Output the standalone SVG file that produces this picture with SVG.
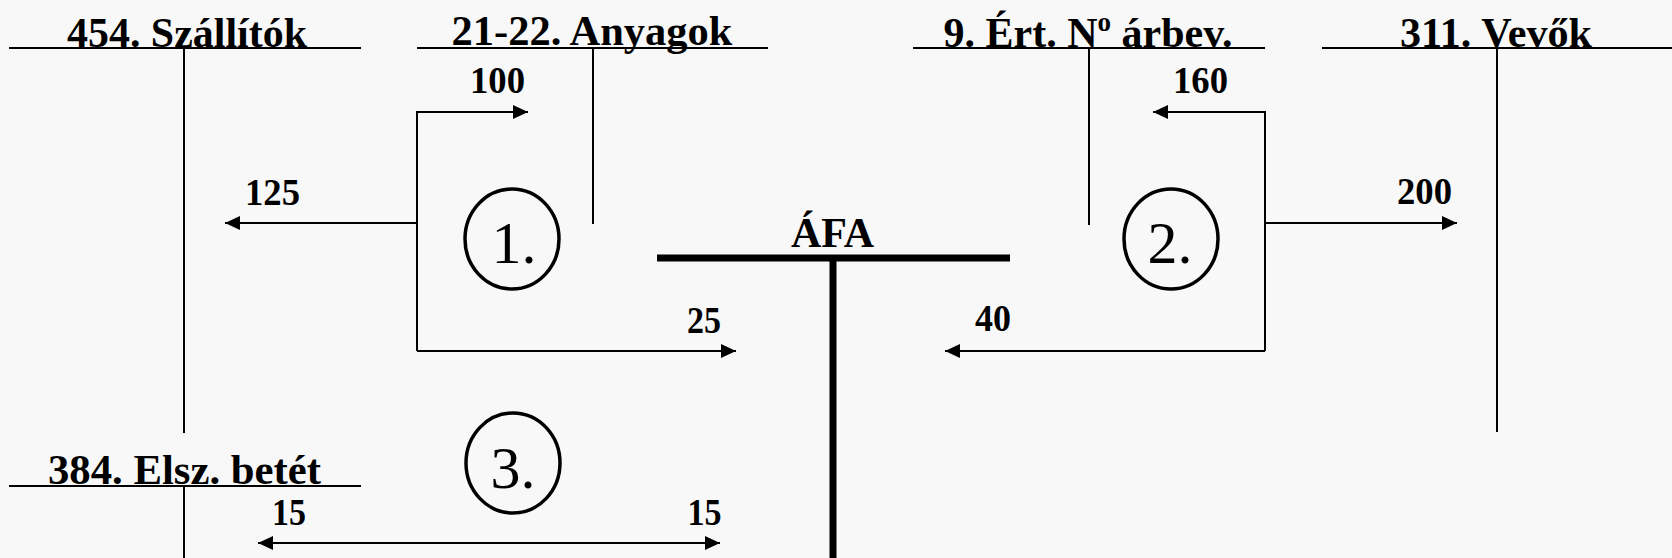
<svg xmlns="http://www.w3.org/2000/svg" width="1672" height="558" viewBox="0 0 1672 558">
<style>
.bg{fill:#f8f8f8}
.ln{stroke:#000;stroke-width:2;fill:none}
.thick{stroke:#000;stroke-width:7;fill:none}
.hd{font-family:"Liberation Serif","Times New Roman",serif;font-weight:bold;font-size:42px;fill:#000;text-anchor:middle}
.num{font-family:"Liberation Serif","Times New Roman",serif;font-weight:bold;font-size:37px;fill:#000;text-anchor:middle}
.circ{fill:none;stroke:#000;stroke-width:3.5}
.cn{font-family:"Liberation Serif","Times New Roman",serif;font-size:60px;fill:#000;text-anchor:middle}
</style>
<defs>
<marker id="ah" markerUnits="userSpaceOnUse" markerWidth="16" markerHeight="14" refX="15" refY="7" orient="auto-start-reverse" viewBox="0 0 16 14">
<path d="M0,0 L15,7 L0,14 z" fill="#000"/>
</marker>
</defs>
<rect class="bg" x="0" y="0" width="1672" height="558"/>

<g id="acc-454">
<line class="ln" x1="9" y1="48" x2="361" y2="48"/>
<line class="ln" x1="184" y1="48" x2="184" y2="433"/>
<text class="hd" x="187" y="47" textLength="240" lengthAdjust="spacingAndGlyphs">454. Szállítók</text>
</g>
<g id="acc-2122">
<line class="ln" x1="417" y1="48" x2="768" y2="48"/>
<line class="ln" x1="593" y1="48" x2="593" y2="224"/>
<text class="hd" x="592" y="45" textLength="281" lengthAdjust="spacingAndGlyphs">21-22. Anyagok</text>
</g>
<g id="acc-9">
<line class="ln" x1="913" y1="48" x2="1265" y2="48"/>
<line class="ln" x1="1089" y1="48" x2="1089" y2="225"/>
<text class="hd" x="1088" y="47">9. Ért. N<tspan font-size="27" dy="-16">o</tspan><tspan dy="16"> árbev.</tspan></text>
</g>
<g id="acc-311">
<line class="ln" x1="1322" y1="48" x2="1672" y2="48"/>
<line class="ln" x1="1497" y1="48" x2="1497" y2="432"/>
<text class="hd" x="1496" y="47" textLength="192" lengthAdjust="spacingAndGlyphs">311. Vevők</text>
</g>
<g id="acc-384">
<line class="ln" x1="9" y1="486" x2="361" y2="486"/>
<line class="ln" x1="184" y1="486" x2="184" y2="558"/>
<text class="hd" x="184.5" y="484" textLength="273" lengthAdjust="spacingAndGlyphs">384. Elsz. betét</text>
</g>
<g id="acc-afa">
<line class="thick" x1="657" y1="258" x2="1010" y2="258"/>
<line class="thick" x1="833" y1="258" x2="833" y2="558"/>
<text class="hd" x="832.5" y="247">ÁFA</text>
</g>

<g id="step-1">
<ellipse class="circ" cx="512" cy="239" rx="47" ry="50"/>
<text class="cn" x="514" y="263">1.</text>
</g>
<g id="step-2">
<ellipse class="circ" cx="1171" cy="239" rx="47" ry="50"/>
<text class="cn" x="1170" y="263">2.</text>
</g>
<g id="step-3">
<ellipse class="circ" cx="513" cy="463" rx="47" ry="50"/>
<text class="cn" x="513" y="488">3.</text>
</g>

<g id="connectors">
<path class="ln" d="M417,351 V112 H528" marker-end="url(#ah)"/>
<path class="ln" d="M417,223 H225" marker-end="url(#ah)"/>
<path class="ln" d="M417,351 H736" marker-end="url(#ah)"/>
<path class="ln" d="M1265,351 V112 H1153" marker-end="url(#ah)"/>
<path class="ln" d="M1265,223 H1457" marker-end="url(#ah)"/>
<path class="ln" d="M1265,351 H945" marker-end="url(#ah)"/>
<path class="ln" d="M258,543 H720" marker-start="url(#ah)" marker-end="url(#ah)"/>
</g>

<g id="labels">
<text class="num" x="497.5" y="93" textLength="55" lengthAdjust="spacingAndGlyphs">100</text>
<text class="num" x="272.5" y="205" textLength="55" lengthAdjust="spacingAndGlyphs">125</text>
<text class="num" x="704" y="333" textLength="34" lengthAdjust="spacingAndGlyphs">25</text>
<text class="num" x="1200.5" y="93" textLength="55" lengthAdjust="spacingAndGlyphs">160</text>
<text class="num" x="1424.5" y="204" textLength="55" lengthAdjust="spacingAndGlyphs">200</text>
<text class="num" x="993" y="331" textLength="36" lengthAdjust="spacingAndGlyphs">40</text>
<text class="num" x="289" y="525" textLength="34" lengthAdjust="spacingAndGlyphs">15</text>
<text class="num" x="704.5" y="525" textLength="34" lengthAdjust="spacingAndGlyphs">15</text>
</g>
</svg>
